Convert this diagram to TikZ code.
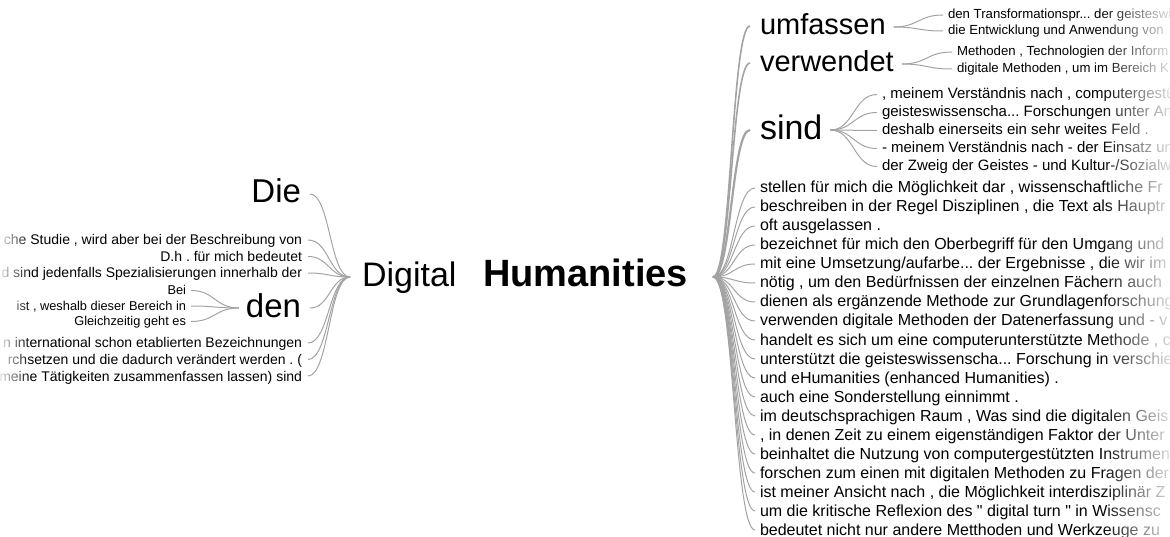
\documentclass[tikz,border=0pt]{standalone}
\usepackage{fontspec}
\setmainfont{Liberation Sans}
\frenchspacing
\usetikzlibrary{calc,fadings}
\definecolor{edge}{HTML}{A3A3A3}
% soft edges where the sentences run out of the frame
\tikzfading[name=fadeeast, left color=transparent!100, right color=transparent!12]
\tikzfading[name=fadewest, left color=transparent!8, right color=transparent!100]
% straight double quote, set as a glyph so that no ligature mapping curls it
\newcommand{\sq}{\XeTeXglyph\XeTeXcharglyph"0022\relax}

\begin{document}
\begin{tikzpicture}[x=1pt,y=-1pt,
  word/.style={inner sep=0pt, outer sep=0pt, text=black},
  lw/.style={word, anchor=base west},
  le/.style={word, anchor=base east},
  fs/.style={font=\fontsize{#1}{#1}\selectfont},
  link/.style={draw=edge, line width=1pt},
  trunk/.style={draw=edge, line width=#1},
  % S-shaped branch: horizontal at both ends, bending half way
  sb/.style={to path={let \p1=(\tikztostart), \p2=(\tikztotarget) in
     .. controls ({0.5*\x1+0.5*\x2},\y1) and ({0.5*\x1+0.5*\x2},\y2) .. (\tikztotarget)}},
]
\useasboundingbox (0,0) rectangle (1170,537);
\clip (0,0) rectangle (1170,537);

% ---- root phrase ----
\node[lw, fs=34] (digital) at (362,287) {Digital};
\node[lw, font=\fontsize{38}{38}\selectfont\bfseries] (hum) at (483,287) {Humanities};
\coordinate (JL) at (350,277);
\coordinate (JR) at (713,277);

% ---- preceding words ----
\node[le, fs=33] (die) at (301,203) {Die};
\node[le, fs=33] (den) at (301,318) {den};
\node[le, fs=14] (l1) at (302,245) {che Studie , wird aber bei der Beschreibung von};
\node[le, fs=14] (l2) at (302,261.5) {D.h . für mich bedeutet};
\node[le, fs=14] (l3) at (302,278) {d sind jedenfalls Spezialisierungen innerhalb der};
\node[le, fs=14] (l4) at (302,348) {n international schon etablierten Bezeichnungen};
\node[le, fs=14] (l5) at (302,364.5) {rchsetzen und die dadurch verändert werden . (};
\node[le, fs=14] (l6) at (302,381) {meine Tätigkeiten zusammenfassen lassen) sind};
\node[le, fs=12.8] (d1) at (186,295) {Bei};
\node[le, fs=12.8] (d2) at (186,310.5) {ist , weshalb dieser Bereich in};
\node[le, fs=12.8] (d3) at (186,326) {Gleichzeitig geht es};

% ---- following words ----
\node[lw, fs=29] (umf) at (760,35) {umfassen};
\node[lw, fs=29] (verw) at (760,72) {verwendet};
\node[lw, fs=34] (sind) at (760,140) {sind};
\node[lw, fs=13.2] (u1) at (948,19) {den Transformationspr... der geisteswi};
\node[lw, fs=13.2] (u2) at (948,35) {die Entwicklung und Anwendung von};
\node[lw, fs=13.2] (v1) at (957,56) {Methoden , Technologien der Inform};
\node[lw, fs=13.2] (v2) at (957,73) {digitale Methoden , um im Bereich K};
\node[lw, fs=15] (s1) at (882,99) {, meinem Verständnis nach , computergestü};
\node[lw, fs=15] (s2) at (882,117) {geisteswissenscha... Forschungen unter An};
\node[lw, fs=15] (s3) at (882,135) {deshalb einerseits ein sehr weites Feld .};
\node[lw, fs=15] (s4) at (882,153) {- meinem Verständnis nach - der Einsatz un};
\node[lw, fs=15] (s5) at (882,171) {der Zweig der Geistes - und Kultur-/Sozialw};

\begin{scope}[every node/.style={lw, fs=16}]
\node (r0)  at (760,193) {stellen für mich die Möglichkeit dar , wissenschaftliche Fr};
\node (r1)  at (760,212) {beschreiben in der Regel Disziplinen , die Text als Hauptr};
\node (r2)  at (760,231) {oft ausgelassen .};
\node (r3)  at (760,250) {bezeichnet für mich den Oberbegriff für den Umgang und};
\node (r4)  at (760,269) {mit eine Umsetzung/aufarbe... der Ergebnisse , die wir im};
\node (r5)  at (760,288) {nötig , um den Bedürfnissen der einzelnen Fächern auch};
\node (r6)  at (760,307) {dienen als ergänzende Methode zur Grundlagenforschung};
\node (r7)  at (760,326) {verwenden digitale Methoden der Datenerfassung und - v};
\node (r8)  at (760,345) {handelt es sich um eine computerunterstützte Methode , c};
\node (r9)  at (760,364) {unterstützt die geisteswissenscha... Forschung in verschie};
\node (r10) at (760,383) {und eHumanities (enhanced Humanities) .};
\node (r11) at (760,402) {auch eine Sonderstellung einnimmt .};
\node (r12) at (760,421) {im deutschsprachigen Raum , Was sind die digitalen Geis};
\node (r13) at (760,440) {, in denen Zeit zu einem eigenständigen Faktor der Unter};
\node (r14) at (760,459) {beinhaltet die Nutzung von computergestützten Instrumen};
\node (r15) at (760,478) {forschen zum einen mit digitalen Methoden zu Fragen der};
\node (r16) at (760,497) {ist meiner Ansicht nach , die Möglichkeit interdisziplinär Z};
\node (r17) at (760,516) {um die kritische Reflexion des \sq{} digital turn \sq{} in Wissensc};
\node (r18) at (760,535) {bedeutet nicht nur andere Metthoden und Werkzeuge zu};
\end{scope}

% ---- branches, left side ----
\draw[link] (JL) to[sb] ([shift={(9,-9)}]die.base east);
\draw[link] (JL) to[sb] ([shift={(9,-10)}]den.base east);
\foreach \n in {l1,l2,l3,l4,l5,l6}
  \draw[link] (JL) to[sb] ([shift={(6,-5)}]\n.base east);
\foreach \n in {d1,d2,d3}
  \draw[link] ([shift={(-7,-10)}]den.base west) to[sb] ([shift={(5,-4.5)}]\n.base east);

% ---- branches, right side ----
\draw[trunk=1.6pt] (JR) to[sb] ([shift={(-10,-9)}]umf.base west);
\draw[trunk=1.6pt] (JR) to[sb] ([shift={(-10,-9)}]verw.base west);
\draw[trunk=2.2pt] (JR) to[sb] ([shift={(-10,-10)}]sind.base west);
\foreach \i in {0,...,18}
  \draw[link] (JR) to[sb] ([shift={(-5,-5)}]r\i.base west);
\foreach \n in {u1,u2}
  \draw[link] ([shift={(8,-8)}]umf.base east) to[sb] ([shift={(-5,-4)}]\n.base west);
\foreach \n in {v1,v2}
  \draw[link] ([shift={(8,-8)}]verw.base east) to[sb] ([shift={(-5,-4)}]\n.base west);
\foreach \n in {s1,s2,s3,s4,s5}
  \draw[link] ([shift={(8,-10)}]sind.base east) to[sb] ([shift={(-5,-4.5)}]\n.base west);

% ---- fade-outs at the cut edges ----
\fill[white, path fading=fadeeast] (1100,0) rectangle (1171,537);
\fill[white, path fading=fadewest] (-1,0) rectangle (30,537);
\end{tikzpicture}
\end{document}
